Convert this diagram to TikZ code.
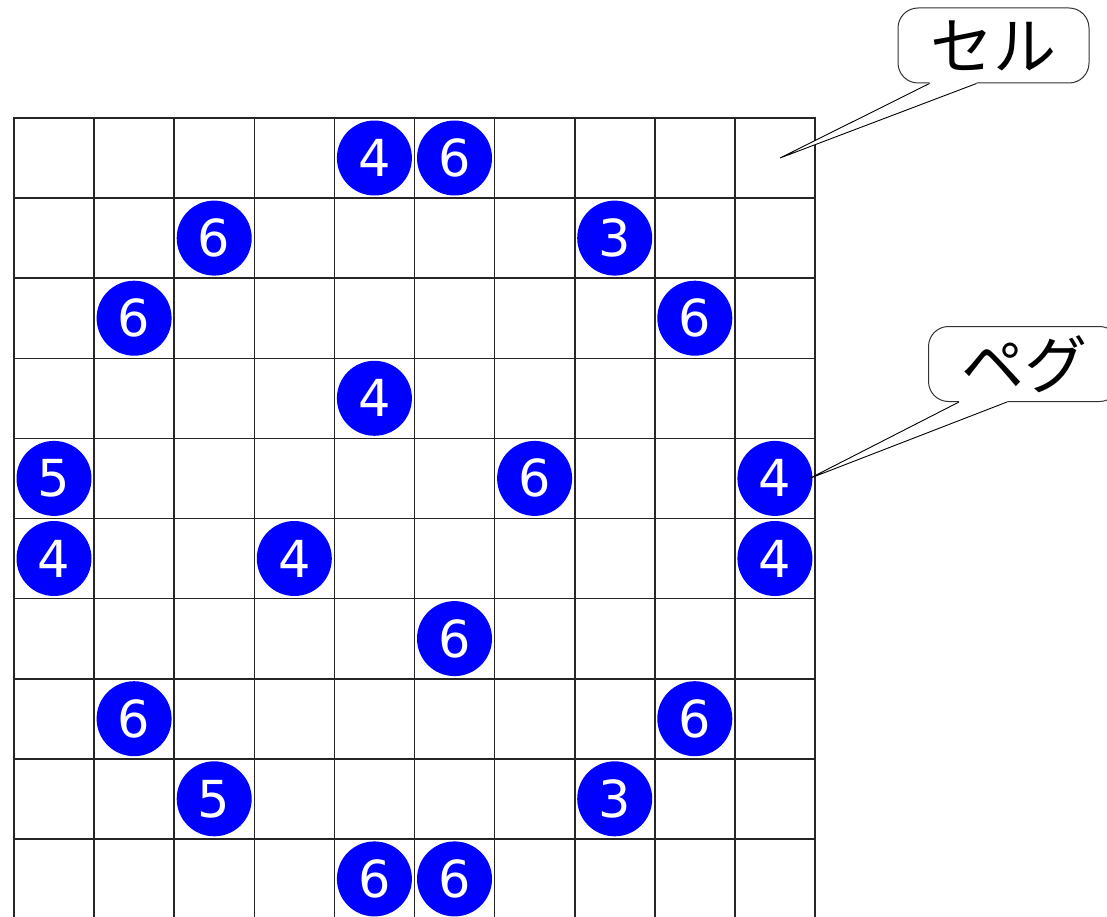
\documentclass[tikz,border=0pt]{standalone}
\usepackage{fontspec}
\setmainfont{DejaVu Sans}
\newfontfamily\jpfont{Noto Sans CJK JP}
\usetikzlibrary{calc}
\definecolor{pegblue}{RGB}{0,0,255}
\begin{document}
\begin{tikzpicture}[x=1pt,y=-1pt,
  peg/.style={circle,fill=pegblue,minimum size=75pt,inner sep=0pt,text=white,font=\fontsize{51}{51}\selectfont},
  gridline/.style={line width=1.6pt,draw=black!85},
  callout/.style={draw=black!80,line width=1pt,rounded corners=20pt,fill=white,minimum width=191pt,minimum height=75pt,inner sep=0pt,font=\jpfont\fontsize{63}{63}\selectfont},
  pointer/.style={draw=black,line width=0.9pt}]
\useasboundingbox (0,0) rectangle (1107,917);
% grid
\begin{scope}
\clip (0,0) rectangle (1107,917);
\foreach \i in {0,...,10} \draw[gridline] ({14+80.1*\i},118) -- ({14+80.1*\i},920);
\foreach \j in {0,...,10} \draw[gridline] (13.2,{118+80.1*\j}) -- (815.8,{118+80.1*\j});
\end{scope}
% pegs
\foreach \r/\c/\n in {0/4/4,0/5/6,1/2/6,1/7/3,2/1/6,2/8/6,3/4/4,4/0/5,4/6/6,4/9/4,5/0/4,5/3/4,5/9/4,6/5/6,7/1/6,7/8/6,8/2/5,8/7/3,9/4/6,9/5/6}
  \node[peg] (p\r\c) at ({54+80.1*\c},{158+80.1*\r}) {\n};
% callouts
\node[callout] (cel) at (993.5,45.5) {セル};
\node[callout] (peg) at (1024,364) {ペグ};
\coordinate (celtip) at (780,158);
\coordinate (pegtip) at ($(p49.east)+(-3,0)$);
\fill[white] ($(cel.south west)+(32,-4)$) -- ($(cel.south west)+(32,0)$) -- (celtip) -- ($(cel.south west)+(79,0)$) -- ($(cel.south west)+(79,-4)$) -- cycle;
\draw[pointer] ($(cel.south west)+(32,0)$) -- (celtip) -- ($(cel.south west)+(79,0)$);
\fill[white] ($(peg.south west)+(31,-4)$) -- ($(peg.south west)+(31,0)$) -- (pegtip) -- ($(peg.south west)+(79,0)$) -- ($(peg.south west)+(79,-4)$) -- cycle;
\draw[pointer] ($(peg.south west)+(31,0)$) -- (pegtip) -- ($(peg.south west)+(79,0)$);
\end{tikzpicture}
\end{document}
